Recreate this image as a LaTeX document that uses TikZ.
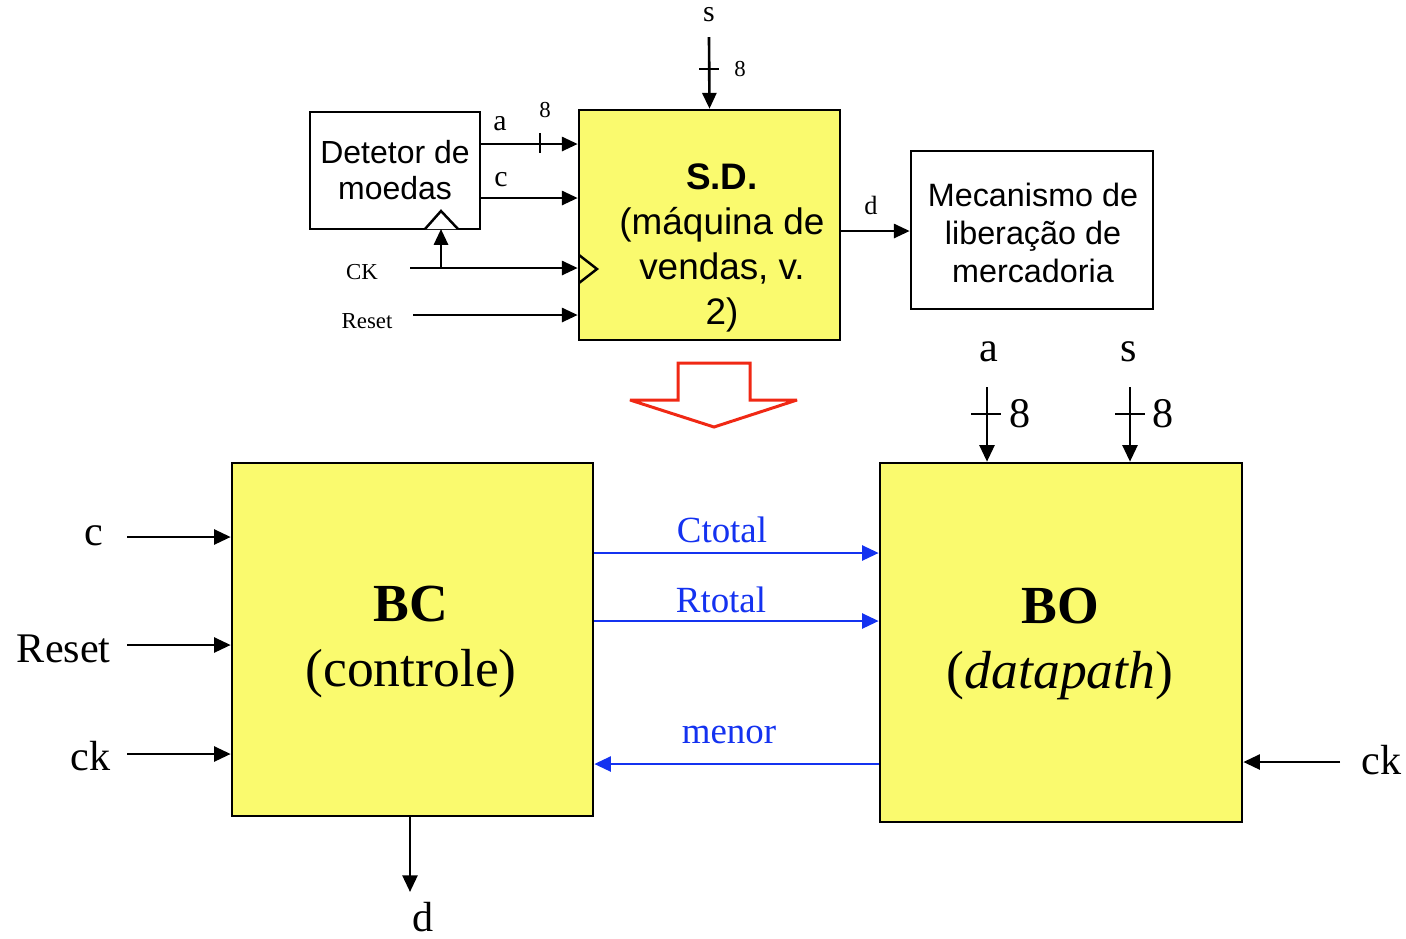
\documentclass[tikz,border=0pt]{standalone}
\usepackage{fontspec}
\setmainfont{Liberation Serif}
\newfontfamily\arial{Liberation Sans}
\usetikzlibrary{arrows.meta}
\definecolor{blockyellow}{RGB}{250,250,110}
\definecolor{sigblue}{RGB}{20,50,240}
\definecolor{bigred}{RGB}{240,40,20}
\tikzset{
  px/.style={x=0.02cm,y=-0.02cm},
  box/.style={draw=black,line width=1.5pt,inner sep=0pt,fill=white},
  ybox/.style={box,fill=blockyellow},
  arr/.style={line width=1.6pt,-{Triangle[length=9.5pt,width=8.5pt]}},
  sarr/.style={line width=1.5pt,-{Triangle[length=9pt,width=8pt]}},
  barr/.style={arr,draw=sigblue},
  tick/.style={line width=1.3pt},
  big/.style={font=\fontsize{24}{28}\selectfont,inner sep=0pt},
  bluelbl/.style={font=\fontsize{21}{25}\selectfont,inner sep=0pt,text=sigblue},
  huge/.style={font=\fontsize{30.5}{37}\selectfont,inner sep=0pt,align=center},
  small/.style={font=\fontsize{13}{15}\selectfont,inner sep=0pt},
  mid/.style={font=\fontsize{17}{19}\selectfont,inner sep=0pt},
  sdtext/.style={font=\arial\fontsize{21}{25.5}\selectfont,align=center,inner sep=0pt},
}
\begin{document}
\begin{tikzpicture}[px]
\useasboundingbox (0,0) rectangle (1406,938);

% ---------- top part ----------
\node[box,minimum width=3.4cm,minimum height=2.34cm] (det) at (395,170.5) {};
\node[font=\arial\fontsize{18.2}{20}\selectfont,align=center,inner sep=0pt] (dettxt) at (395,170) {Detetor de\\moedas};
\node[ybox,minimum width=5.22cm,minimum height=4.6cm] (sd) at (709.5,225) {};
\node[sdtext] (sdtxt) at (722,248) {\textbf{S.D.}\\(máquina de\\vendas, v.\\2)};
\node[box,minimum width=4.84cm,minimum height=3.16cm] (mec) at (1032,230) {};
\node[font=\arial\fontsize{18.4}{21.5}\selectfont,align=center,inner sep=0pt] (mectxt) at (1033,233) {Mecanismo de\\liberação de\\mercadoria};

% clock triangles
\draw[line width=1.4pt,fill=white] (425,229) -- (441,211) -- (458,229);
\draw[line width=1.4pt] (579,255) -- (597,269) -- (579,283);

% a and c
\draw[sarr] (det.east |- 0,144) -- (sd.west |- 0,144);
\draw[tick] (540,133) -- (540,153);
\node[mid] (la) at (500,124) {a};
\node[small] (l8a) at (545,110) {8};
\draw[sarr] (det.east |- 0,198) -- (sd.west |- 0,198);
\node[mid] (lc) at (501,180) {c};

% CK and Reset
\node[small] (lck) at (362,272) {CK};
\coordinate (ckst) at (410,268);
\coordinate (ckbr) at (441,268);
\draw[sarr] (ckst) -- (sd.west |- ckst);
\draw[sarr] (ckbr) -- (441,229);
\node[small] (lrst) at (367,321) {Reset};
\coordinate (rstst) at (413,315);
\draw[sarr] (rstst) -- (sd.west |- rstst);

% s input
\node[mid] (ls) at (709,15) {s};
\coordinate (sst) at (709,37);
\draw[sarr] (sst) -- (sd.north);
\draw[tick] (699,69) -- (719,69);
\node[small] (l8s) at (740,69) {8};

% d output
\draw[sarr] (sd.east |- 0,231) -- (mec.west |- 0,231);
\node[font=\fontsize{15}{17}\selectfont,inner sep=0pt] (ld) at (871,205) {d};

% big red arrow
\draw[bigred,line width=1.7pt,fill=white,line join=miter,miter limit=3]
  (678,363) -- (750,363) -- (750,400) -- (797,400) -- (714,427) -- (630,400) -- (678,400) -- cycle;

% ---------- bottom part ----------
\node[ybox,minimum width=7.22cm,minimum height=7.06cm] (bc) at (412.5,639.5) {};
\node[huge] (bctxt) at (411,642) {\textbf{BC}\\(controle)};
\node[ybox,minimum width=7.24cm,minimum height=7.18cm] (bo) at (1061,642.5) {};
\node[huge] (botxt) at (1060,644) {\textbf{BO}\\(\textit{datapath})};

% left inputs
\node[big,anchor=east] (bcc) at (104,536) {c};
\coordinate (bccs) at (127,537);
\draw[arr] (bccs) -- (bc.west |- bccs);
\node[big,anchor=east] (bcr) at (111,649) {Reset};
\coordinate (bcrs) at (127,645);
\draw[arr] (bcrs) -- (bc.west |- bcrs);
\node[big,anchor=east] (bck) at (111,756) {ck};
\coordinate (bcks) at (127,754);
\draw[arr] (bcks) -- (bc.west |- bcks);

% blue signals
\draw[barr] (bc.east |- 0,553) -- (bo.west |- 0,553);
\node[bluelbl] (lct) at (722,530) {Ctotal};
\draw[barr] (bc.east |- 0,621) -- (bo.west |- 0,621);
\node[bluelbl] (lrt) at (721,600) {Rtotal};
\draw[barr] (bo.west |- 0,764) -- (bc.east |- 0,764);
\node[bluelbl] (lmn) at (729,735) {menor};

% a, s to BO
\node[big] (boa) at (989,352) {a};
\coordinate (boas) at (987,387);
\draw[arr] (boas) -- (bo.north -| boas);
\draw[tick] (971,414) -- (1001,414);
\node[big] (bo8a) at (1020,414) {8};
\node[big] (bos) at (1129,352) {s};
\coordinate (boss) at (1130,387);
\draw[arr] (boss) -- (bo.north -| boss);
\draw[tick] (1115,414) -- (1145,414);
\node[big] (bo8s) at (1163,414) {8};

% ck to BO
\node[big,anchor=west] (bock) at (1361,760) {ck};
\coordinate (bocks) at (1340,762);
\draw[arr] (bocks) -- (bo.east |- bocks);

% d out of BC
\coordinate (bcd) at (410,892);
\draw[arr] (bc.south -| bcd) -- (bcd);
\node[big] (bcdl) at (423,917) {d};
\end{tikzpicture}
\end{document}
